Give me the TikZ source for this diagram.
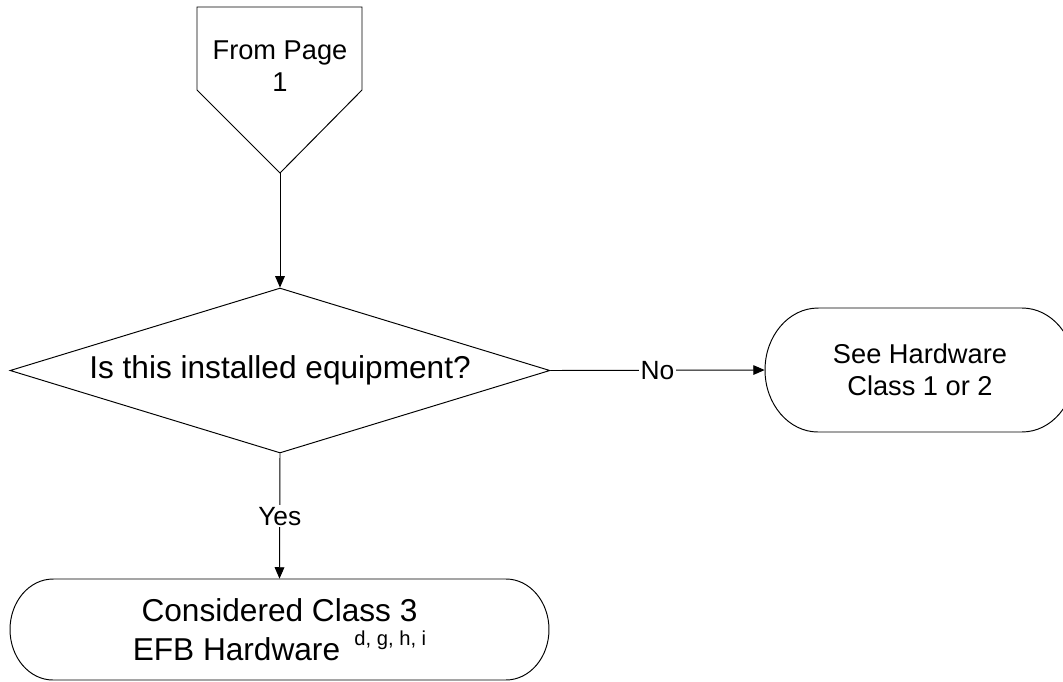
\documentclass[tikz,border=0pt]{standalone}
\usepackage{fontspec}
\setmainfont{Liberation Sans}
\usetikzlibrary{arrows.meta,shapes.geometric,shapes.misc}
\begin{document}
\begin{tikzpicture}[x=0.02cm,y=-0.02cm,
  line/.style={draw=black,line width=0.55pt},
  arr/.style={line,-{Triangle[length=6.5pt,width=5.5pt]}},
  bigtext/.style={font=\fontsize{18}{22.5}\selectfont},
  midtext/.style={font=\fontsize{15.5}{18.5}\selectfont},
  lbl/.style={font=\fontsize{15}{17}\selectfont,fill=white,inner sep=1pt},
  term/.style={rounded rectangle,align=center,inner sep=0pt}]
\useasboundingbox (0,0) rectangle (1063,681);
% off-page connector
\draw[line] (197,7) -- (362,7) -- (362,90) -- (280,173) -- (197,90) -- cycle;
\node[midtext,align=center] (src) at (280,66) {From Page\\1};
\coordinate (srctip) at (280,173);
% decision
\node[diamond,line,minimum width=10.8cm,minimum height=3.3cm,aspect=3.27,inner sep=0pt,bigtext] (dec) at (280,370.5) {Is this installed equipment?};
% terminals (text nodes; outlines drawn with elliptic ends)
\node[term,minimum width=10.78cm,minimum height=2.02cm,bigtext] (cls3) at (279.5,629.5)
  {Considered Class 3\\EFB Hardware\hspace{0.45em}\raisebox{8.5pt}{\fontsize{11.5}{13}\selectfont d, g, h, i}};
\draw[line] (53,579) -- (506,579) arc[start angle=90,end angle=-90,x radius=0.86cm,y radius=1.01cm]
  -- (53,680) arc[start angle=270,end angle=90,x radius=0.86cm,y radius=1.01cm] -- cycle;
\node[term,minimum width=6.2cm,minimum height=2.48cm,midtext] (cls12) at (920,370)
  {See Hardware\\Class 1 or 2};
\draw[line] (818,308) -- (1022,308) arc[start angle=90,end angle=-90,x radius=1.06cm,y radius=1.24cm]
  -- (818,432) arc[start angle=270,end angle=90,x radius=1.06cm,y radius=1.24cm] -- cycle;
% connectors
\draw[arr] (srctip) -- (dec.north);
\draw[arr] (dec.east) -- node[lbl]{No} (cls12.west);
\draw[arr] (dec.south) -- node[lbl]{Yes} (cls3.north);
\end{tikzpicture}
\end{document}
